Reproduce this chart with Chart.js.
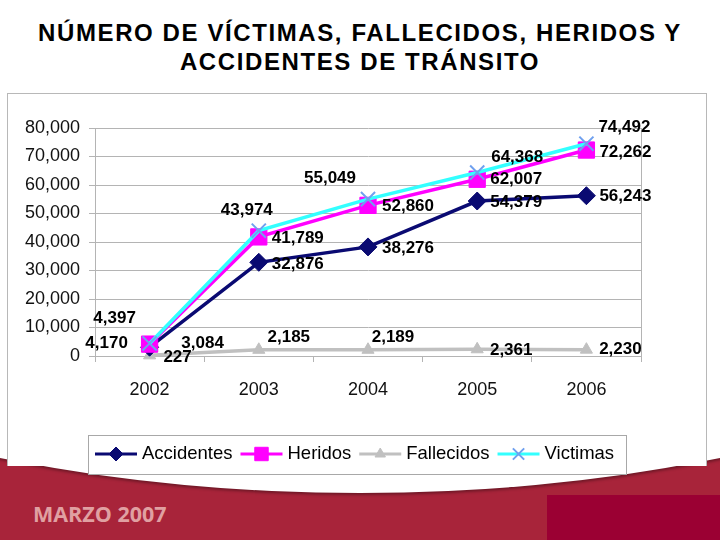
<!DOCTYPE html>
<html>
<head>
<meta charset="utf-8">
<script src="https://cdn.jsdelivr.net/npm/chart.js@4.4.0/dist/chart.umd.min.js"></script>
<style>
  html, body { margin: 0; padding: 0; }
  body { width: 720px; height: 540px; position: relative; overflow: hidden; background: #fff; font-family: "Liberation Sans", Arial, sans-serif; }
  #footer { position: absolute; left: 0; top: 430px; width: 720px; height: 110px; background: #a8243a; }
  #footerDark { position: absolute; left: 547px; top: 495px; width: 173px; height: 45px; background: #9b0033; }
  #curve { position: absolute; left: -540px; top: -347px; width: 1800px; height: 840px; border-radius: 50%; background: #fff; box-shadow: 0 2px 3px rgba(0,0,0,0.35); }
  #card { position: absolute; left: 7px; top: 93px; width: 698px; height: 372px; border: 1px solid #b8b8b8; border-bottom: none; background: #fff; }
  #title { position: absolute; left: 0; top: 18px; width: 720px; text-align: center; font-weight: bold; font-size: 24px; line-height: 29px; letter-spacing: 1.6px; color: #000; }
  #fecha { position: absolute; left: 33px; top: 499px; font-family: "Open Sans", sans-serif; font-weight: bold; font-size: 21.5px; color: #e0a0a2; }
  #chart { position: absolute; left: 0; top: 0; }
</style>
</head>
<body>
<div id="footer"></div>
<div id="footerDark"></div>
<div id="curve"></div>
<div id="card"></div>
<div id="title">NÚMERO DE VÍCTIMAS, FALLECIDOS, HERIDOS Y<br>ACCIDENTES DE TRÁNSITO</div>
<div id="fecha">MARZO 2007</div>
<canvas id="chart" width="720" height="540"></canvas>
<script>
// datos
const years = ['2002', '2003', '2004', '2005', '2006'];
const accidentes = [3084, 32876, 38276, 54379, 56243];
const heridos = [4170, 41789, 52860, 62007, 72262];
const fallecidos = [227, 2185, 2189, 2361, 2230];
const victimas = [4397, 43974, 55049, 64368, 74492];

// desplazamiento de las etiquetas respecto al punto (px)
const offAccidentes = [[53, -4], [39, 2], [40, 1], [39, 1], [39, 1]];
const offHeridos = [[-43, -1], [39, 1], [40, 1], [39, 0], [39, 2]];
const offFallecidos = [[28, 2], [30, -12], [25, -12], [34, 1], [34, 0]];
const offVictimas = [[-35, -25], [-12, -20], [-38, -21], [40, -15], [38, -16]];

const FONT = '"Liberation Sans", Arial, sans-serif';
const fmt = v => v.toLocaleString('en-US');

const dataLabels = {
    id: 'dataLabels',
    beforeDatasetsDraw(chart) {
        // borde derecho del área de trazado
        const a = chart.chartArea;
        const ctx = chart.ctx;
        ctx.save();
        ctx.strokeStyle = '#b4b4b4';
        ctx.lineWidth = 1;
        ctx.beginPath();
        ctx.moveTo(a.right + 0.5, a.top);
        ctx.lineTo(a.right + 0.5, a.bottom + 6);
        ctx.stroke();
        ctx.restore();
    },
    afterDatasetsDraw(chart) {
        const ctx = chart.ctx;
        ctx.save();
        ctx.font = 'bold 17px ' + FONT;
        ctx.fillStyle = '#000';
        ctx.textAlign = 'center';
        ctx.textBaseline = 'middle';
        chart.data.datasets.forEach((ds, i) => {
            const meta = chart.getDatasetMeta(i);
            meta.data.forEach((pt, j) => {
                const off = ds.labelOffsets[j];
                ctx.fillText(fmt(ds.data[j]), pt.x + off[0], pt.y + off[1]);
            });
        });
        ctx.restore();
    }
};

const legendBox = {
    id: 'legendBox',
    afterDraw(chart) {
        const ctx = chart.ctx;
        ctx.save();
        ctx.fillStyle = '#fff';
        ctx.fillRect(88, 435, 538, 39);
        ctx.strokeStyle = '#a8a8a8';
        ctx.lineWidth = 1;
        ctx.strokeRect(88.5, 435.5, 538, 39);
        ctx.font = '18.5px ' + FONT;
        ctx.textBaseline = 'middle';
        ctx.textAlign = 'left';
        const cy = 454;
        let x = 95;
        chart.data.datasets.forEach(ds => {
            ctx.strokeStyle = ds.borderColor;
            ctx.lineWidth = 3;
            ctx.beginPath();
            ctx.moveTo(x, cy);
            ctx.lineTo(x + 42, cy);
            ctx.stroke();
            ctx.fillStyle = ds.pointBackgroundColor;
            ctx.strokeStyle = ds.pointBorderColor;
            ctx.lineWidth = ds.pointBorderWidth;
            Chart.helpers.drawPoint(ctx, {
                pointStyle: ds.pointStyle, radius: ds.legendRadius, rotation: 0, borderWidth: ds.pointBorderWidth
            }, x + 21, cy);
            ctx.fillStyle = '#000';
            ctx.fillText(ds.label, x + 47, cy);
            x += 47 + ctx.measureText(ds.label).width + 8;
        });
        ctx.restore();
    }
};

new Chart(document.getElementById('chart'), {
    type: 'line',
    data: {
        labels: years,
        datasets: [
            {
                label: 'Accidentes', data: accidentes, labelOffsets: offAccidentes,
                borderColor: '#0a0a72', backgroundColor: '#0a0a72', borderWidth: 3.5,
                pointStyle: 'rectRot', pointRadius: 9, legendRadius: 7,
                pointBackgroundColor: '#0a0a72', pointBorderColor: '#0a0a72', pointBorderWidth: 1,
                order: 3, clip: false
            },
            {
                label: 'Heridos', data: heridos, labelOffsets: offHeridos,
                borderColor: '#ff00ff', backgroundColor: '#ff00ff', borderWidth: 3.5,
                pointStyle: 'rect', pointRadius: 11.5, legendRadius: 9.5,
                pointBackgroundColor: '#ff00ff', pointBorderColor: '#ff00ff', pointBorderWidth: 1,
                order: 2, clip: false
            },
            {
                label: 'Fallecidos', data: fallecidos, labelOffsets: offFallecidos,
                borderColor: '#c0c0c0', backgroundColor: '#c0c0c0', borderWidth: 3.5,
                pointStyle: 'triangle', pointRadius: 7, legendRadius: 6,
                pointBackgroundColor: '#c0c0c0', pointBorderColor: '#c0c0c0', pointBorderWidth: 1,
                order: 4, clip: false
            },
            {
                label: 'Victimas', data: victimas, labelOffsets: offVictimas,
                borderColor: '#33ffff', backgroundColor: '#33ffff', borderWidth: 3.5,
                pointStyle: 'crossRot', pointRadius: 10, legendRadius: 8,
                pointBackgroundColor: '#6fa0ef', pointBorderColor: '#6fa0ef', pointBorderWidth: 2,
                order: 1, clip: false
            }
        ]
    },
    options: {
        responsive: false,
        animation: false,
        layout: { padding: { left: 0, right: 79, top: 128, bottom: 0 } },
        plugins: {
            legend: { display: false },
            tooltip: { enabled: false }
        },
        elements: { line: { tension: 0 } },
        scales: {
            x: {
                offset: true,
                grid: { offset: true, drawOnChartArea: false, color: '#b4b4b4', tickLength: 6 },
                border: { color: '#b4b4b4' },
                ticks: { color: '#111', font: { size: 18, family: FONT }, padding: 17 },
                afterFit: s => { s.height = 184; }
            },
            y: {
                min: 0,
                max: 80000,
                ticks: { stepSize: 10000, color: '#111', font: { size: 18, family: FONT }, padding: 9, callback: v => fmt(v) },
                grid: { color: '#b4b4b4', tickLength: 6 },
                border: { color: '#b4b4b4' },
                afterFit: s => { s.width = 95; }
            }
        }
    },
    plugins: [dataLabels, legendBox]
});
</script>
</body>
</html>
